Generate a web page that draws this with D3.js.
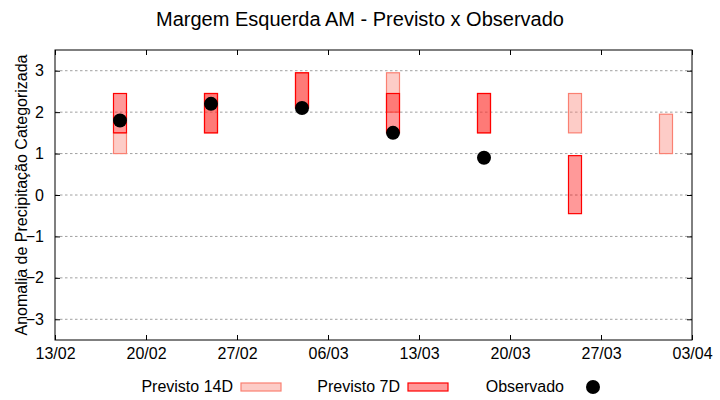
<!DOCTYPE html>
<html lang="pt">
  <head>
    <meta charset="UTF-8"/>
    <title>Margem Esquerda AM - Previsto x Observado</title>
    <script src="https://d3js.org/d3.v7.min.js"></script>
    <style>
      body { margin: 0; background: #fff; }
      text { font-family: 'Liberation Sans', Arial, sans-serif; fill: #000; }
      .title { font-size: 20px; }
      .tick text { font-size: 16px; font-family: 'Liberation Sans', Arial, sans-serif; }
      .axis-label { font-size: 16px; }
      .legend text { font-size: 16px; }
      .grid line { stroke: #a0a0a0; stroke-dasharray: 2.5,2.5; }
    </style>
  </head>
  <body>
    <script>
      // datas das previsões (sábados)
      const dates = ["2023-02-18", "2023-02-25", "2023-03-04", "2023-03-11", "2023-03-18", "2023-03-25", "2023-04-01"]
      const prev14Low  = [1.0, 1.5, 2.1, 2.0, 1.5, 1.5, 1.0]
      const prev14High = [1.5, 2.45, 2.95, 2.95, 2.45, 2.45, 1.95]
      const prev7Low   = [1.5, 1.5, 2.1, 1.5, 1.5, -0.45, null]
      const prev7High  = [2.45, 2.45, 2.95, 2.45, 2.45, 0.95, null]
      const observado  = [1.8, 2.2, 2.1, 1.5, 0.9, null, null]

      const xTicks = ["2023-02-13", "2023-02-20", "2023-02-27", "2023-03-06", "2023-03-13", "2023-03-20", "2023-03-27", "2023-04-03"]
      const yTicks = [-3, -2, -1, 0, 1, 2, 3]

      const parse = d3.timeParse("%Y-%m-%d")

      const outerWidth = 720,
            outerHeight = 400,
            margin = ({top: 50, right: 28, bottom: 60, left: 55}),
            width = outerWidth - margin.left - margin.right,
            height = outerHeight - margin.top - margin.bottom

      const svg = d3.select("body").append("svg")
          .attr("width", outerWidth)
          .attr("height", outerHeight)

      const g = svg.append("g")
          .attr("transform", `translate(${margin.left},${margin.top})`)

      const xScale = d3.scaleTime()
          .domain([parse(xTicks[0]), parse(xTicks[xTicks.length - 1])])
          .range([0, width])

      const yScale = d3.scaleLinear()
          .domain([-3.5, 3.5])
          .range([height, 0])

      // grade horizontal
      g.append("g")
          .attr("class", "grid")
          .selectAll("line")
          .data(yTicks)
          .join("line")
          .attr("x1", 0)
          .attr("x2", width)
          .attr("y1", d => yScale(d))
          .attr("y2", d => yScale(d))

      const boxes = (low, high) => dates.map((d, i) => ({date: parse(d), low: low[i], high: high[i]}))
          .filter(d => d.low != null)

      const drawBoxes = (data, color) => {
          g.append("g")
              .selectAll("rect")
              .data(data)
              .join("rect")
              .attr("x", d => xScale(d3.timeHour.offset(d.date, -12)))
              .attr("width", d => xScale(d3.timeHour.offset(d.date, 12)) - xScale(d3.timeHour.offset(d.date, -12)))
              .attr("y", d => yScale(d.high))
              .attr("height", d => yScale(d.low) - yScale(d.high))
              .attr("fill", color)
              .attr("fill-opacity", 0.4)
              .attr("stroke", color)
              .attr("stroke-width", 1.2)
      }

      drawBoxes(boxes(prev14Low, prev14High), "salmon")
      drawBoxes(boxes(prev7Low, prev7High), "red")

      g.append("g")
          .selectAll("circle")
          .data(dates.map((d, i) => ({date: parse(d), v: observado[i]})).filter(d => d.v != null))
          .join("circle")
          .attr("cx", d => xScale(d.date))
          .attr("cy", d => yScale(d.v))
          .attr("r", 7)
          .attr("fill", "#000")

      // eixos
      const yAxisG = g.append("g")
          .call(d3.axisLeft(yScale).tickValues(yTicks).tickSize(-5).tickPadding(11).tickFormat(d3.format("d")))
      yAxisG.select(".domain").remove()

      g.append("g")
          .attr("transform", `translate(${width},0)`)
          .call(d3.axisRight(yScale).tickValues(yTicks).tickSize(-5).tickFormat(""))
          .select(".domain").remove()

      const xAxisG = g.append("g")
          .attr("transform", `translate(0,${height})`)
          .call(d3.axisBottom(xScale).tickValues(xTicks.map(parse)).tickSize(-5).tickPadding(8)
              .tickFormat(d3.timeFormat("%d/%m")))
      xAxisG.select(".domain").remove()

      g.append("g")
          .call(d3.axisTop(xScale).tickValues(xTicks.map(parse)).tickSize(-5).tickFormat(""))
          .select(".domain").remove()

      g.append("rect")
          .attr("width", width)
          .attr("height", height)
          .attr("fill", "none")
          .attr("stroke", "#000")
          .attr("stroke-width", 1)

      g.append("text")
          .attr("class", "axis-label")
          .attr("text-anchor", "middle")
          .attr("transform", "rotate(-90)")
          .attr("x", -height / 2)
          .attr("y", -margin.left + 27)
          .text("Anomalia de Precipitação Categorizada")

      svg.append("text")
          .attr("class", "title")
          .attr("text-anchor", "middle")
          .attr("x", outerWidth / 2)
          .attr("y", 26)
          .text("Margem Esquerda AM - Previsto x Observado")

      // legenda
      const legend = svg.append("g").attr("class", "legend")
      const legendItems = [
          {label: "Previsto 14D", right: 233, type: "box", color: "salmon"},
          {label: "Previsto 7D", right: 400, type: "box", color: "red"},
          {label: "Observado", right: 564, type: "dot"}
      ]
      legendItems.forEach(item => {
          legend.append("text")
              .attr("x", item.right)
              .attr("y", 392)
              .attr("text-anchor", "end")
              .text(item.label)
          if (item.type === "box") {
              legend.append("rect")
                  .attr("x", item.right + 8)
                  .attr("y", 383)
                  .attr("width", 40)
                  .attr("height", 8)
                  .attr("fill", item.color)
                  .attr("fill-opacity", 0.4)
                  .attr("stroke", item.color)
                  .attr("stroke-width", 1.2)
          } else {
              legend.append("circle")
                  .attr("cx", item.right + 29)
                  .attr("cy", 387)
                  .attr("r", 7)
                  .attr("fill", "#000")
          }
      })
    </script>
  </body>
</html>
